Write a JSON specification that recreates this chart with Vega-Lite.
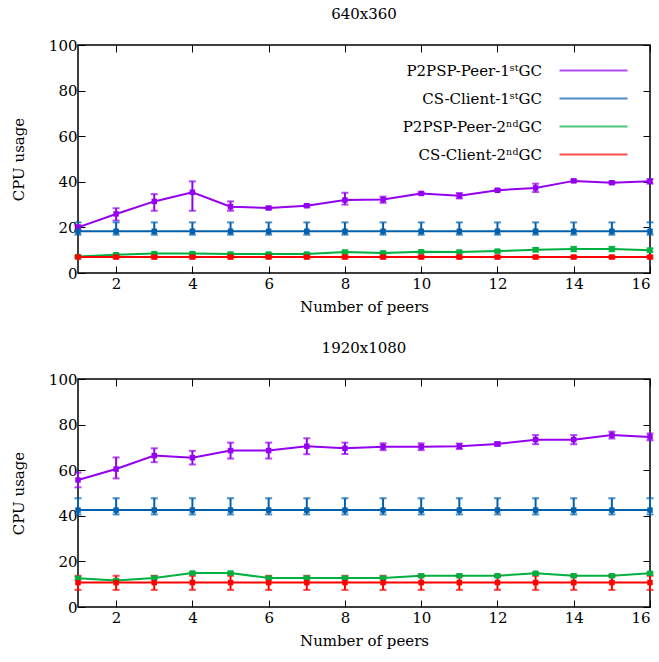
{
  "$schema": "https://vega.github.io/schema/vega-lite/v6.json",
  "background": "white",
  "padding": {"left": 10, "top": 6, "right": 5, "bottom": 5},
  "config": {
    "font": "DejaVu Serif",
    "view": {"stroke": "black", "strokeWidth": 1.5},
    "title": {"fontSize": 15, "fontWeight": "normal", "font": "DejaVu Serif", "color": "black", "offset": 16},
    "axis": {"labelFont": "DejaVu Serif", "titleFont": "DejaVu Serif", "labelFontSize": 15, "titleFontSize": 15, "titleFontWeight": "normal", "labelColor": "black", "titleColor": "black", "grid": false, "domain": false, "tickColor": "black", "tickWidth": 1},
    "legend": {"labelFont": "DejaVu Serif", "labelFontSize": 15, "labelColor": "black"}
  },
  "datasets": {
    "low": [
      {"x": 1, "y": 20.0, "lo": 19.0, "hi": 21.0, "s": "P2PSP-Peer-1ˢᵗGC"},
      {"x": 2, "y": 25.9, "lo": 23.0, "hi": 28.4, "s": "P2PSP-Peer-1ˢᵗGC"},
      {"x": 3, "y": 31.4, "lo": 27.3, "hi": 34.6, "s": "P2PSP-Peer-1ˢᵗGC"},
      {"x": 4, "y": 35.4, "lo": 27.3, "hi": 40.2, "s": "P2PSP-Peer-1ˢᵗGC"},
      {"x": 5, "y": 29.1, "lo": 27.3, "hi": 31.4, "s": "P2PSP-Peer-1ˢᵗGC"},
      {"x": 6, "y": 28.5, "lo": 28.0, "hi": 29.0, "s": "P2PSP-Peer-1ˢᵗGC"},
      {"x": 7, "y": 29.5, "lo": 29.0, "hi": 30.0, "s": "P2PSP-Peer-1ˢᵗGC"},
      {"x": 8, "y": 32.0, "lo": 30.0, "hi": 35.2, "s": "P2PSP-Peer-1ˢᵗGC"},
      {"x": 9, "y": 32.2, "lo": 30.8, "hi": 33.5, "s": "P2PSP-Peer-1ˢᵗGC"},
      {"x": 10, "y": 34.9, "lo": 34.5, "hi": 35.3, "s": "P2PSP-Peer-1ˢᵗGC"},
      {"x": 11, "y": 33.9, "lo": 32.7, "hi": 35.1, "s": "P2PSP-Peer-1ˢᵗGC"},
      {"x": 12, "y": 36.3, "lo": 35.9, "hi": 36.7, "s": "P2PSP-Peer-1ˢᵗGC"},
      {"x": 13, "y": 37.3, "lo": 35.5, "hi": 39.2, "s": "P2PSP-Peer-1ˢᵗGC"},
      {"x": 14, "y": 40.4, "lo": 39.9, "hi": 40.9, "s": "P2PSP-Peer-1ˢᵗGC"},
      {"x": 15, "y": 39.6, "lo": 39.2, "hi": 40.0, "s": "P2PSP-Peer-1ˢᵗGC"},
      {"x": 16, "y": 40.2, "lo": 39.2, "hi": 41.2, "s": "P2PSP-Peer-1ˢᵗGC"},
      {"x": 1, "y": 18.3, "lo": 16.8, "hi": 22.2, "s": "CS-Client-1ˢᵗGC"},
      {"x": 2, "y": 18.3, "lo": 16.8, "hi": 22.2, "s": "CS-Client-1ˢᵗGC"},
      {"x": 3, "y": 18.3, "lo": 16.8, "hi": 22.2, "s": "CS-Client-1ˢᵗGC"},
      {"x": 4, "y": 18.3, "lo": 16.8, "hi": 22.2, "s": "CS-Client-1ˢᵗGC"},
      {"x": 5, "y": 18.3, "lo": 16.8, "hi": 22.2, "s": "CS-Client-1ˢᵗGC"},
      {"x": 6, "y": 18.3, "lo": 16.8, "hi": 22.2, "s": "CS-Client-1ˢᵗGC"},
      {"x": 7, "y": 18.3, "lo": 16.8, "hi": 22.2, "s": "CS-Client-1ˢᵗGC"},
      {"x": 8, "y": 18.3, "lo": 16.8, "hi": 22.2, "s": "CS-Client-1ˢᵗGC"},
      {"x": 9, "y": 18.3, "lo": 16.8, "hi": 22.2, "s": "CS-Client-1ˢᵗGC"},
      {"x": 10, "y": 18.3, "lo": 16.8, "hi": 22.2, "s": "CS-Client-1ˢᵗGC"},
      {"x": 11, "y": 18.3, "lo": 16.8, "hi": 22.2, "s": "CS-Client-1ˢᵗGC"},
      {"x": 12, "y": 18.3, "lo": 16.8, "hi": 22.2, "s": "CS-Client-1ˢᵗGC"},
      {"x": 13, "y": 18.3, "lo": 16.8, "hi": 22.2, "s": "CS-Client-1ˢᵗGC"},
      {"x": 14, "y": 18.3, "lo": 16.8, "hi": 22.2, "s": "CS-Client-1ˢᵗGC"},
      {"x": 15, "y": 18.3, "lo": 16.8, "hi": 22.2, "s": "CS-Client-1ˢᵗGC"},
      {"x": 16, "y": 18.3, "lo": 16.8, "hi": 22.2, "s": "CS-Client-1ˢᵗGC"},
      {"x": 1, "y": 7.2, "lo": 6.8, "hi": 7.6, "s": "P2PSP-Peer-2ⁿᵈGC"},
      {"x": 2, "y": 8.0, "lo": 7.5, "hi": 8.5, "s": "P2PSP-Peer-2ⁿᵈGC"},
      {"x": 3, "y": 8.5, "lo": 8.0, "hi": 9.0, "s": "P2PSP-Peer-2ⁿᵈGC"},
      {"x": 4, "y": 8.5, "lo": 8.0, "hi": 9.0, "s": "P2PSP-Peer-2ⁿᵈGC"},
      {"x": 5, "y": 8.3, "lo": 7.8, "hi": 8.8, "s": "P2PSP-Peer-2ⁿᵈGC"},
      {"x": 6, "y": 8.3, "lo": 7.8, "hi": 8.8, "s": "P2PSP-Peer-2ⁿᵈGC"},
      {"x": 7, "y": 8.3, "lo": 7.8, "hi": 8.8, "s": "P2PSP-Peer-2ⁿᵈGC"},
      {"x": 8, "y": 9.2, "lo": 8.6, "hi": 9.8, "s": "P2PSP-Peer-2ⁿᵈGC"},
      {"x": 9, "y": 8.8, "lo": 8.3, "hi": 9.3, "s": "P2PSP-Peer-2ⁿᵈGC"},
      {"x": 10, "y": 9.3, "lo": 8.8, "hi": 9.8, "s": "P2PSP-Peer-2ⁿᵈGC"},
      {"x": 11, "y": 9.2, "lo": 8.7, "hi": 9.7, "s": "P2PSP-Peer-2ⁿᵈGC"},
      {"x": 12, "y": 9.6, "lo": 9.1, "hi": 10.1, "s": "P2PSP-Peer-2ⁿᵈGC"},
      {"x": 13, "y": 10.2, "lo": 9.4, "hi": 11.0, "s": "P2PSP-Peer-2ⁿᵈGC"},
      {"x": 14, "y": 10.5, "lo": 9.5, "hi": 11.5, "s": "P2PSP-Peer-2ⁿᵈGC"},
      {"x": 15, "y": 10.5, "lo": 9.5, "hi": 11.5, "s": "P2PSP-Peer-2ⁿᵈGC"},
      {"x": 16, "y": 10.0, "lo": 9.2, "hi": 10.8, "s": "P2PSP-Peer-2ⁿᵈGC"},
      {"x": 1, "y": 7.0, "lo": 6.5, "hi": 7.5, "s": "CS-Client-2ⁿᵈGC"},
      {"x": 2, "y": 7.0, "lo": 6.5, "hi": 7.5, "s": "CS-Client-2ⁿᵈGC"},
      {"x": 3, "y": 7.0, "lo": 6.5, "hi": 7.5, "s": "CS-Client-2ⁿᵈGC"},
      {"x": 4, "y": 7.0, "lo": 6.5, "hi": 7.5, "s": "CS-Client-2ⁿᵈGC"},
      {"x": 5, "y": 7.0, "lo": 6.5, "hi": 7.5, "s": "CS-Client-2ⁿᵈGC"},
      {"x": 6, "y": 7.0, "lo": 6.5, "hi": 7.5, "s": "CS-Client-2ⁿᵈGC"},
      {"x": 7, "y": 7.0, "lo": 6.5, "hi": 7.5, "s": "CS-Client-2ⁿᵈGC"},
      {"x": 8, "y": 7.0, "lo": 6.5, "hi": 7.5, "s": "CS-Client-2ⁿᵈGC"},
      {"x": 9, "y": 7.0, "lo": 6.5, "hi": 7.5, "s": "CS-Client-2ⁿᵈGC"},
      {"x": 10, "y": 7.0, "lo": 6.5, "hi": 7.5, "s": "CS-Client-2ⁿᵈGC"},
      {"x": 11, "y": 7.0, "lo": 6.5, "hi": 7.5, "s": "CS-Client-2ⁿᵈGC"},
      {"x": 12, "y": 7.0, "lo": 6.5, "hi": 7.5, "s": "CS-Client-2ⁿᵈGC"},
      {"x": 13, "y": 7.0, "lo": 6.5, "hi": 7.5, "s": "CS-Client-2ⁿᵈGC"},
      {"x": 14, "y": 7.0, "lo": 6.5, "hi": 7.5, "s": "CS-Client-2ⁿᵈGC"},
      {"x": 15, "y": 7.0, "lo": 6.5, "hi": 7.5, "s": "CS-Client-2ⁿᵈGC"},
      {"x": 16, "y": 7.0, "lo": 6.5, "hi": 7.5, "s": "CS-Client-2ⁿᵈGC"}
    ],
    "high": [
      {"x": 1, "y": 55.7, "lo": 52.5, "hi": 59.0, "s": "P2PSP-Peer-1ˢᵗGC"},
      {"x": 2, "y": 60.5, "lo": 56.4, "hi": 65.6, "s": "P2PSP-Peer-1ˢᵗGC"},
      {"x": 3, "y": 66.4, "lo": 63.5, "hi": 69.6, "s": "P2PSP-Peer-1ˢᵗGC"},
      {"x": 4, "y": 65.5, "lo": 62.5, "hi": 68.5, "s": "P2PSP-Peer-1ˢᵗGC"},
      {"x": 5, "y": 68.6, "lo": 65.1, "hi": 72.1, "s": "P2PSP-Peer-1ˢᵗGC"},
      {"x": 6, "y": 68.6, "lo": 65.1, "hi": 72.1, "s": "P2PSP-Peer-1ˢᵗGC"},
      {"x": 7, "y": 70.5, "lo": 67.0, "hi": 74.0, "s": "P2PSP-Peer-1ˢᵗGC"},
      {"x": 8, "y": 69.6, "lo": 67.1, "hi": 72.1, "s": "P2PSP-Peer-1ˢᵗGC"},
      {"x": 9, "y": 70.3, "lo": 68.8, "hi": 71.8, "s": "P2PSP-Peer-1ˢᵗGC"},
      {"x": 10, "y": 70.3, "lo": 68.8, "hi": 71.8, "s": "P2PSP-Peer-1ˢᵗGC"},
      {"x": 11, "y": 70.5, "lo": 69.3, "hi": 71.7, "s": "P2PSP-Peer-1ˢᵗGC"},
      {"x": 12, "y": 71.5, "lo": 70.7, "hi": 72.3, "s": "P2PSP-Peer-1ˢᵗGC"},
      {"x": 13, "y": 73.4, "lo": 71.4, "hi": 75.4, "s": "P2PSP-Peer-1ˢᵗGC"},
      {"x": 14, "y": 73.4, "lo": 71.4, "hi": 75.4, "s": "P2PSP-Peer-1ˢᵗGC"},
      {"x": 15, "y": 75.4, "lo": 73.9, "hi": 76.9, "s": "P2PSP-Peer-1ˢᵗGC"},
      {"x": 16, "y": 74.6, "lo": 73.1, "hi": 76.1, "s": "P2PSP-Peer-1ˢᵗGC"},
      {"x": 1, "y": 42.5, "lo": 40.6, "hi": 47.7, "s": "CS-Client-1ˢᵗGC"},
      {"x": 2, "y": 42.5, "lo": 40.6, "hi": 47.7, "s": "CS-Client-1ˢᵗGC"},
      {"x": 3, "y": 42.5, "lo": 40.6, "hi": 47.7, "s": "CS-Client-1ˢᵗGC"},
      {"x": 4, "y": 42.5, "lo": 40.6, "hi": 47.7, "s": "CS-Client-1ˢᵗGC"},
      {"x": 5, "y": 42.5, "lo": 40.6, "hi": 47.7, "s": "CS-Client-1ˢᵗGC"},
      {"x": 6, "y": 42.5, "lo": 40.6, "hi": 47.7, "s": "CS-Client-1ˢᵗGC"},
      {"x": 7, "y": 42.5, "lo": 40.6, "hi": 47.7, "s": "CS-Client-1ˢᵗGC"},
      {"x": 8, "y": 42.5, "lo": 40.6, "hi": 47.7, "s": "CS-Client-1ˢᵗGC"},
      {"x": 9, "y": 42.5, "lo": 40.6, "hi": 47.7, "s": "CS-Client-1ˢᵗGC"},
      {"x": 10, "y": 42.5, "lo": 40.6, "hi": 47.7, "s": "CS-Client-1ˢᵗGC"},
      {"x": 11, "y": 42.5, "lo": 40.6, "hi": 47.7, "s": "CS-Client-1ˢᵗGC"},
      {"x": 12, "y": 42.5, "lo": 40.6, "hi": 47.7, "s": "CS-Client-1ˢᵗGC"},
      {"x": 13, "y": 42.5, "lo": 40.6, "hi": 47.7, "s": "CS-Client-1ˢᵗGC"},
      {"x": 14, "y": 42.5, "lo": 40.6, "hi": 47.7, "s": "CS-Client-1ˢᵗGC"},
      {"x": 15, "y": 42.5, "lo": 40.6, "hi": 47.7, "s": "CS-Client-1ˢᵗGC"},
      {"x": 16, "y": 42.5, "lo": 40.6, "hi": 47.7, "s": "CS-Client-1ˢᵗGC"},
      {"x": 1, "y": 12.6, "lo": 12.0, "hi": 13.2, "s": "P2PSP-Peer-2ⁿᵈGC"},
      {"x": 2, "y": 11.6, "lo": 11.0, "hi": 12.2, "s": "P2PSP-Peer-2ⁿᵈGC"},
      {"x": 3, "y": 12.7, "lo": 12.1, "hi": 13.6, "s": "P2PSP-Peer-2ⁿᵈGC"},
      {"x": 4, "y": 14.9, "lo": 14.4, "hi": 15.4, "s": "P2PSP-Peer-2ⁿᵈGC"},
      {"x": 5, "y": 14.9, "lo": 14.4, "hi": 15.4, "s": "P2PSP-Peer-2ⁿᵈGC"},
      {"x": 6, "y": 12.7, "lo": 12.1, "hi": 13.3, "s": "P2PSP-Peer-2ⁿᵈGC"},
      {"x": 7, "y": 12.7, "lo": 12.1, "hi": 13.3, "s": "P2PSP-Peer-2ⁿᵈGC"},
      {"x": 8, "y": 12.7, "lo": 12.1, "hi": 13.3, "s": "P2PSP-Peer-2ⁿᵈGC"},
      {"x": 9, "y": 12.7, "lo": 12.1, "hi": 13.3, "s": "P2PSP-Peer-2ⁿᵈGC"},
      {"x": 10, "y": 13.7, "lo": 13.1, "hi": 14.3, "s": "P2PSP-Peer-2ⁿᵈGC"},
      {"x": 11, "y": 13.7, "lo": 13.1, "hi": 14.3, "s": "P2PSP-Peer-2ⁿᵈGC"},
      {"x": 12, "y": 13.7, "lo": 13.1, "hi": 14.3, "s": "P2PSP-Peer-2ⁿᵈGC"},
      {"x": 13, "y": 14.8, "lo": 14.3, "hi": 15.3, "s": "P2PSP-Peer-2ⁿᵈGC"},
      {"x": 14, "y": 13.7, "lo": 13.1, "hi": 14.3, "s": "P2PSP-Peer-2ⁿᵈGC"},
      {"x": 15, "y": 13.7, "lo": 13.1, "hi": 14.3, "s": "P2PSP-Peer-2ⁿᵈGC"},
      {"x": 16, "y": 14.8, "lo": 14.3, "hi": 15.3, "s": "P2PSP-Peer-2ⁿᵈGC"},
      {"x": 1, "y": 10.7, "lo": 7.5, "hi": 13.7, "s": "CS-Client-2ⁿᵈGC"},
      {"x": 2, "y": 10.7, "lo": 7.5, "hi": 13.7, "s": "CS-Client-2ⁿᵈGC"},
      {"x": 3, "y": 10.7, "lo": 7.5, "hi": 13.7, "s": "CS-Client-2ⁿᵈGC"},
      {"x": 4, "y": 10.7, "lo": 7.5, "hi": 13.7, "s": "CS-Client-2ⁿᵈGC"},
      {"x": 5, "y": 10.7, "lo": 7.5, "hi": 13.7, "s": "CS-Client-2ⁿᵈGC"},
      {"x": 6, "y": 10.7, "lo": 7.5, "hi": 13.7, "s": "CS-Client-2ⁿᵈGC"},
      {"x": 7, "y": 10.7, "lo": 7.5, "hi": 13.7, "s": "CS-Client-2ⁿᵈGC"},
      {"x": 8, "y": 10.7, "lo": 7.5, "hi": 13.7, "s": "CS-Client-2ⁿᵈGC"},
      {"x": 9, "y": 10.7, "lo": 7.5, "hi": 13.7, "s": "CS-Client-2ⁿᵈGC"},
      {"x": 10, "y": 10.7, "lo": 7.5, "hi": 13.7, "s": "CS-Client-2ⁿᵈGC"},
      {"x": 11, "y": 10.7, "lo": 7.5, "hi": 13.7, "s": "CS-Client-2ⁿᵈGC"},
      {"x": 12, "y": 10.7, "lo": 7.5, "hi": 13.7, "s": "CS-Client-2ⁿᵈGC"},
      {"x": 13, "y": 10.7, "lo": 7.5, "hi": 13.7, "s": "CS-Client-2ⁿᵈGC"},
      {"x": 14, "y": 10.7, "lo": 7.5, "hi": 13.7, "s": "CS-Client-2ⁿᵈGC"},
      {"x": 15, "y": 10.7, "lo": 7.5, "hi": 13.7, "s": "CS-Client-2ⁿᵈGC"},
      {"x": 16, "y": 10.7, "lo": 7.5, "hi": 13.7, "s": "CS-Client-2ⁿᵈGC"}
    ]
  },
  "spacing": 25,
  "vconcat": [
    {
      "title": "640x360",
      "width": 572,
      "height": 228,
      "data": {"name": "low"},
      "encoding": {
        "x": {"field": "x", "type": "quantitative", "scale": {"domain": [1, 16], "nice": false}},
        "color": {"field": "s", "type": "nominal",
          "scale": {"domain": ["P2PSP-Peer-1ˢᵗGC", "CS-Client-1ˢᵗGC", "P2PSP-Peer-2ⁿᵈGC", "CS-Client-2ⁿᵈGC"], "range": ["#9400f0", "#0060ad", "#00b040", "#ff0000"]},
          "legend": {"title": null, "orient": "top-right", "offset": 18, "symbolType": "M-6.8,0H6.8", "symbolSize": 100, "symbolStrokeWidth": 2, "labelAlign": "right", "labelOffset": -59, "rowPadding": 12, "padding": 0}
        }
      },
      "layer": [
        {"mark": {"type": "line", "strokeWidth": 2},
         "encoding": {
           "x": {"field": "x", "type": "quantitative", "scale": {"domain": [1, 16], "nice": false}, "axis": {"title": "Number of peers", "values": [2, 4, 6, 8, 10, 12, 14, 16], "tickSize": -7, "labelPadding": 10, "titlePadding": 8}},
           "y": {"field": "y", "type": "quantitative", "scale": {"domain": [0, 100], "nice": false}, "axis": {"title": "CPU usage", "values": [0, 20, 40, 60, 80, 100], "tickSize": -7, "labelPadding": 8, "titlePadding": 22}}
         }},
        {"mark": {"type": "rule", "strokeWidth": 2},
         "encoding": {"y": {"field": "lo", "type": "quantitative", "axis": null}, "y2": {"field": "hi"}, "x": {"field": "x", "type": "quantitative", "axis": null}}},
        {"mark": {"type": "tick", "orient": "horizontal", "size": 7, "thickness": 2},
         "encoding": {"y": {"field": "lo", "type": "quantitative", "axis": null}, "x": {"field": "x", "type": "quantitative", "axis": null}}},
        {"mark": {"type": "tick", "orient": "horizontal", "size": 7, "thickness": 2},
         "encoding": {"y": {"field": "hi", "type": "quantitative", "axis": null}, "x": {"field": "x", "type": "quantitative", "axis": null}}},
        {"mark": {"type": "point", "shape": "square", "filled": true, "size": 30, "opacity": 1},
         "encoding": {"y": {"field": "y", "type": "quantitative", "axis": null}, "x": {"field": "x", "type": "quantitative", "axis": null}}},
        {"mark": {"type": "point", "opacity": 0},
         "encoding": {
           "x": {"field": "x", "type": "quantitative", "axis": {"orient": "top", "title": null, "labels": false, "values": [2, 4, 6, 8, 10, 12, 14, 16], "tickSize": -7}},
           "y": {"field": "y", "type": "quantitative", "axis": {"orient": "right", "title": null, "labels": false, "values": [0, 20, 40, 60, 80, 100], "tickSize": -7}},
           "color": {"value": "transparent"}
         }}
      ],
      "resolve": {"axis": {"x": "independent", "y": "independent"}}
    },
    {
      "title": "1920x1080",
      "width": 572,
      "height": 228,
      "data": {"name": "high"},
      "encoding": {
        "x": {"field": "x", "type": "quantitative", "scale": {"domain": [1, 16], "nice": false}},
        "color": {"field": "s", "type": "nominal", "legend": null}
      },
      "layer": [
        {"mark": {"type": "line", "strokeWidth": 2},
         "encoding": {
           "x": {"field": "x", "type": "quantitative", "scale": {"domain": [1, 16], "nice": false}, "axis": {"title": "Number of peers", "values": [2, 4, 6, 8, 10, 12, 14, 16], "tickSize": -7, "labelPadding": 10, "titlePadding": 8}},
           "y": {"field": "y", "type": "quantitative", "scale": {"domain": [0, 100], "nice": false}, "axis": {"title": "CPU usage", "values": [0, 20, 40, 60, 80, 100], "tickSize": -7, "labelPadding": 8, "titlePadding": 22}}
         }},
        {"mark": {"type": "rule", "strokeWidth": 2},
         "encoding": {"y": {"field": "lo", "type": "quantitative", "axis": null}, "y2": {"field": "hi"}, "x": {"field": "x", "type": "quantitative", "axis": null}}},
        {"mark": {"type": "tick", "orient": "horizontal", "size": 7, "thickness": 2},
         "encoding": {"y": {"field": "lo", "type": "quantitative", "axis": null}, "x": {"field": "x", "type": "quantitative", "axis": null}}},
        {"mark": {"type": "tick", "orient": "horizontal", "size": 7, "thickness": 2},
         "encoding": {"y": {"field": "hi", "type": "quantitative", "axis": null}, "x": {"field": "x", "type": "quantitative", "axis": null}}},
        {"mark": {"type": "point", "shape": "square", "filled": true, "size": 30, "opacity": 1},
         "encoding": {"y": {"field": "y", "type": "quantitative", "axis": null}, "x": {"field": "x", "type": "quantitative", "axis": null}}},
        {"mark": {"type": "point", "opacity": 0},
         "encoding": {
           "x": {"field": "x", "type": "quantitative", "axis": {"orient": "top", "title": null, "labels": false, "values": [2, 4, 6, 8, 10, 12, 14, 16], "tickSize": -7}},
           "y": {"field": "y", "type": "quantitative", "axis": {"orient": "right", "title": null, "labels": false, "values": [0, 20, 40, 60, 80, 100], "tickSize": -7}},
           "color": {"value": "transparent"}
         }}
      ],
      "resolve": {"axis": {"x": "independent", "y": "independent"}}
    }
  ],
  "resolve": {"scale": {"color": "shared"}}
}
